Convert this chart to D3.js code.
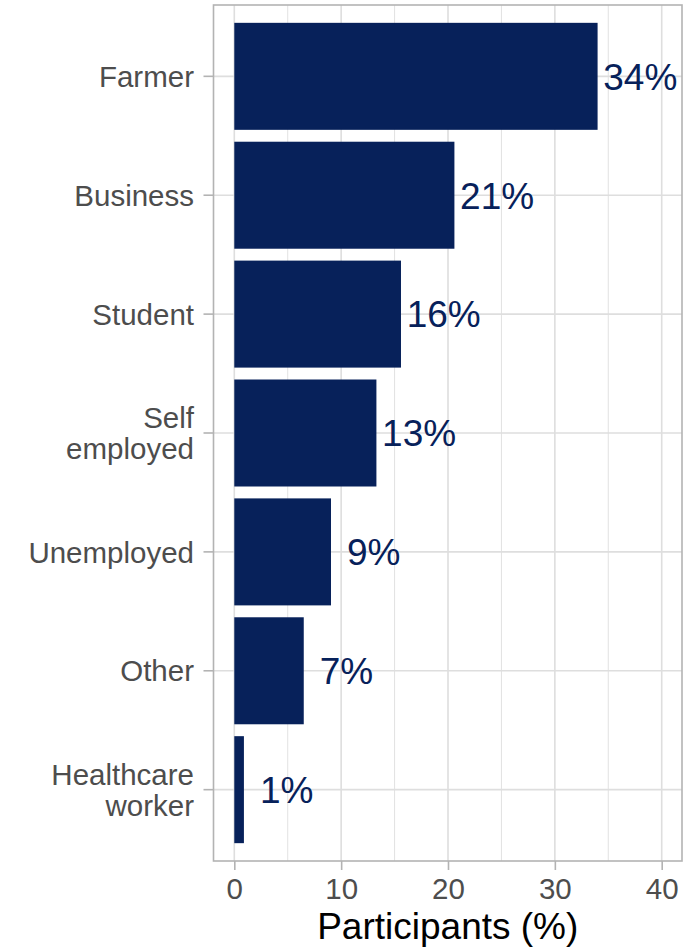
<!DOCTYPE html>
<html>
<head>
<meta charset="utf-8">
<script src="https://cdn.jsdelivr.net/npm/d3@7/dist/d3.min.js"></script>
<style>
  html, body { margin: 0; padding: 0; background: #ffffff; }
  svg { display: block; font-family: "Liberation Sans", Arial, Helvetica, sans-serif; }
</style>
</head>
<body>
<svg id="chart" width="700" height="951"></svg>
<script>
// Occupation of participants, share in percent
const categories = ["Farmer", "Business", "Student", "Self\nemployed", "Unemployed", "Other", "Healthcare\nworker"];
const shares = [34.0, 20.6, 15.6, 13.3, 9.05, 6.5, 0.9];
const xTicks = [0, 10, 20, 30, 40];
const xMinorTicks = [5, 15, 25, 35];
const xTitle = "Participants (%)";

const barColor = "#07215A";
const gridColor = "#DEDEDE";
const borderColor = "#B3B3B3";
const axisTextColor = "#4D4D4D";

const panel = { left: 213.5, right: 682, top: 5, bottom: 861 };
const svg = d3.select("#chart");

const x = d3.scaleLinear().domain([0, 40]).range([234.3, 661.7]);
const y = d3.scaleBand()
  .domain(categories)
  .range([panel.top, panel.bottom])
  .paddingInner(0.1)
  .paddingOuter(0.15);

const g = svg.append("g");

// grid: minor vertical, major vertical, major horizontal
g.selectAll("line.minor").data(xMinorTicks).join("line")
  .attr("x1", d => x(d)).attr("x2", d => x(d))
  .attr("y1", panel.top).attr("y2", panel.bottom)
  .attr("stroke", gridColor).attr("stroke-width", 0.9);
g.selectAll("line.majorx").data(xTicks).join("line")
  .attr("x1", d => x(d)).attr("x2", d => x(d))
  .attr("y1", panel.top).attr("y2", panel.bottom)
  .attr("stroke", gridColor).attr("stroke-width", 1.6);
g.selectAll("line.majory").data(categories).join("line")
  .attr("x1", panel.left).attr("x2", panel.right)
  .attr("y1", d => y(d) + y.bandwidth() / 2).attr("y2", d => y(d) + y.bandwidth() / 2)
  .attr("stroke", gridColor).attr("stroke-width", 1.6);

// bars
g.selectAll("rect.bar").data(categories).join("rect")
  .attr("x", x(0))
  .attr("y", d => y(d))
  .attr("width", (d, i) => x(shares[i]) - x(0))
  .attr("height", y.bandwidth())
  .attr("fill", barColor);

// value labels, centred 4 units to the right of each bar end
const labelSize = 37;
g.selectAll("text.val").data(categories).join("text")
  .attr("x", (d, i) => x(shares[i] + 4))
  .attr("y", d => y(d) + y.bandwidth() / 2 + 0.36 * labelSize)
  .attr("text-anchor", "middle")
  .attr("font-size", labelSize)
  .attr("fill", barColor)
  .text((d, i) => Math.round(shares[i]) + "%");

// panel border
g.append("rect")
  .attr("x", panel.left).attr("y", panel.top)
  .attr("width", panel.right - panel.left).attr("height", panel.bottom - panel.top)
  .attr("fill", "none").attr("stroke", borderColor).attr("stroke-width", 1.6);

// x axis
const xAxis = svg.append("g")
  .attr("transform", `translate(0,${panel.bottom})`)
  .call(d3.axisBottom(x).tickValues(xTicks).tickSize(9).tickPadding(7).tickFormat(d3.format("d")));
xAxis.select(".domain").remove();
xAxis.selectAll(".tick line").attr("stroke", borderColor).attr("stroke-width", 1.6);
xAxis.selectAll(".tick text")
  .attr("fill", axisTextColor)
  .attr("font-size", 29.5)
  .attr("font-family", "Liberation Sans, Arial, sans-serif")
  .attr("dy", null)
  .attr("y", 38);

// y axis (multi-line labels)
const yAxis = svg.append("g")
  .attr("transform", `translate(${panel.left},0)`)
  .call(d3.axisLeft(y).tickSize(10).tickFormat(""));
yAxis.select(".domain").remove();
yAxis.selectAll(".tick line").attr("stroke", borderColor).attr("stroke-width", 1.6);

const tickSize = 29.5;
const lineGap = 30.5;
yAxis.selectAll(".tick").each(function (d) {
  const lines = d.split("\n");
  const t = d3.select(this).append("text")
    .attr("text-anchor", "end")
    .attr("fill", axisTextColor)
    .attr("font-size", tickSize);
  lines.forEach((ln, k) => {
    t.append("tspan")
      .attr("x", -19.5)
      .attr("y", -((lines.length - 1) * lineGap) / 2 + k * lineGap + 0.36 * tickSize)
      .text(ln);
  });
});

// axis title
svg.append("text")
  .attr("x", (panel.left + panel.right) / 2)
  .attr("y", 939)
  .attr("text-anchor", "middle")
  .attr("font-size", 37)
  .attr("fill", "#000000")
  .text(xTitle);
</script>
</body>
</html>
